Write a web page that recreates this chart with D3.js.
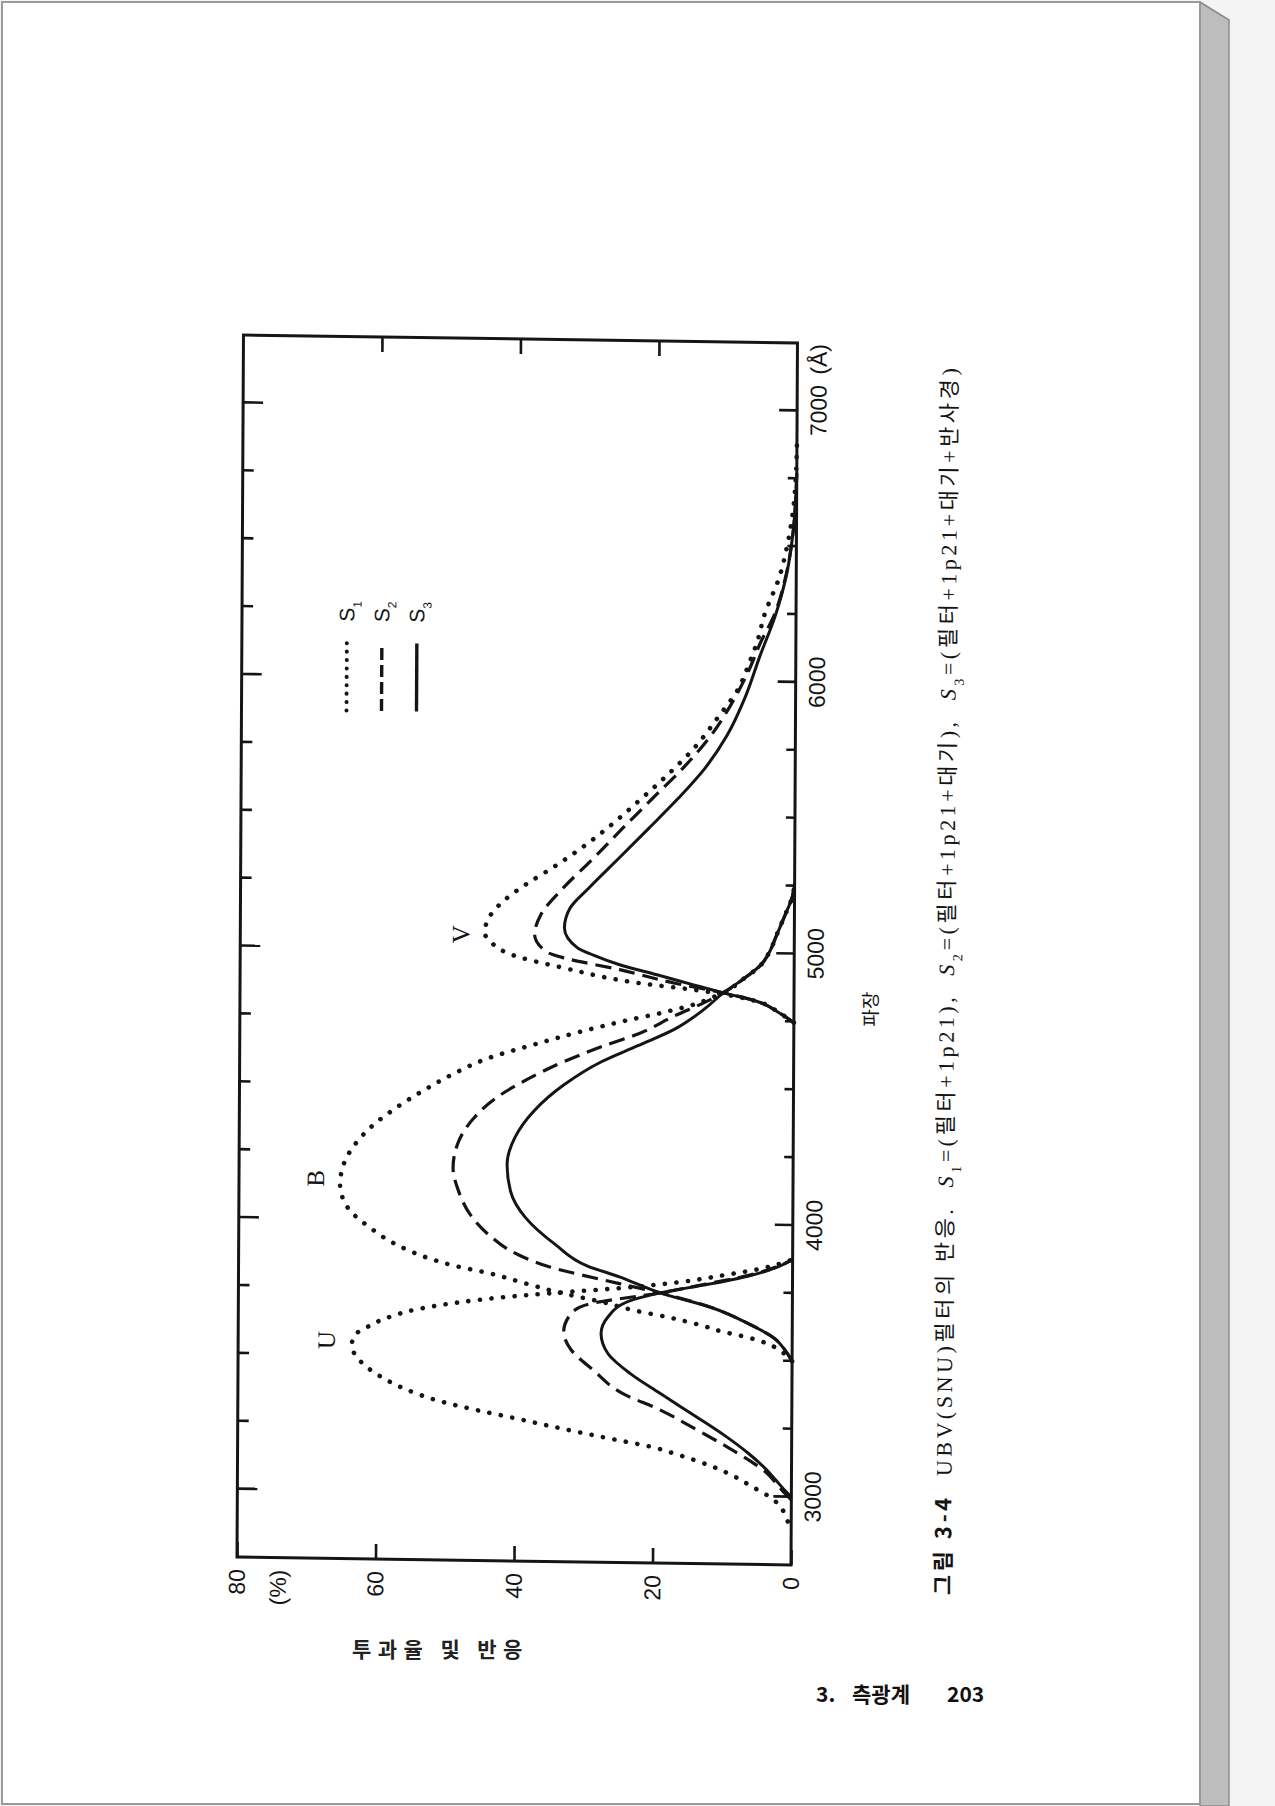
<!DOCTYPE html>
<html>
<head>
<meta charset="utf-8">
<script src="https://cdn.jsdelivr.net/npm/d3@7"></script>
<style>
  body { margin: 0; background: #f4f4f4; }
  svg { display: block; }
</style>
</head>
<body>
<div id="chart"></div>
<script>
// ---- data (wavelength in A, response in %) ----
var waveTicks = [3000, 4000, 5000, 6000, 7000];
var pctTicks = [0, 20, 40, 60, 80];

// U filter
var uWaveS1 = [2910, 2950, 2990, 3038, 3075, 3110, 3150, 3180, 3200, 3223, 3250, 3278, 3300, 3333, 3378, 3425, 3485, 3535, 3575, 3606, 3638, 3671, 3698, 3720, 3740, 3760, 3785, 3813, 3840, 3875];
var uPctS1  = [0.5, 1.2, 2.6, 5.8, 8.4, 11.6, 16.4, 20.7, 25.0, 29.8, 35.1, 40.4, 44.8, 50.6, 55.9, 59.6, 62.6, 63.6, 63.1, 61.2, 58.6, 54.3, 48.5, 42, 34, 25, 16.5, 10, 4.5, 0];
var uWaveS2 = [2990, 3015, 3050, 3088, 3136, 3184, 3244, 3315, 3372, 3457, 3530, 3597, 3665, 3701, 3745, 3780, 3813, 3845, 3875];
var uPctS2  = [0, 1, 2.2, 3.6, 6.3, 9.5, 13.8, 19.1, 24.4, 28.7, 31.9, 33, 31.9, 29.2, 19.1, 12.5, 6.5, 2.5, 0];
var uWaveS3 = [3000, 3026, 3060, 3099, 3160, 3220, 3291, 3376, 3447, 3519, 3592, 3654, 3715, 3745, 3780, 3813, 3845, 3875];
var uPctS3  = [0, 1, 2.2, 3.6, 6.3, 9.5, 13.8, 19.1, 23.4, 26.6, 27.6, 26.6, 23.4, 19.1, 12, 6.2, 2.3, 0];

// B filter
var bWaveS1 = [3500, 3540, 3564, 3585, 3605, 3628, 3656, 3679, 3709, 3737, 3771, 3807, 3835, 3860, 3911, 3971, 4043, 4128, 4202, 4275, 4349, 4412, 4475, 4538, 4601, 4652, 4704, 4743, 4782, 4808, 4835, 4853, 4902, 4958, 5010, 5066, 5140, 5213, 5260];
var bPctS1  = [0, 1.8, 3.6, 6.3, 10, 13.2, 18, 22.8, 27.6, 33, 38.3, 43.6, 49, 52.5, 57.4, 61.1, 64.3, 65.4, 64.9, 63.3, 60.6, 57.4, 53.6, 49.3, 44, 37.6, 30.6, 24.7, 18.2, 14.5, 11.8, 10.2, 7.5, 4.8, 3.5, 2.6, 1.4, 0.3, 0];
var bWaveS2 = [3500, 3540, 3584, 3636, 3693, 3745, 3777, 3838, 3879, 3952, 4024, 4110, 4195, 4293, 4380, 4455, 4522, 4591, 4647, 4697, 4766, 4817, 4853, 4902, 4958, 5010, 5066, 5140, 5213, 5260];
var bPctS2  = [0, 1, 2.6, 6.3, 11.6, 19.1, 25, 35.5, 39.7, 44, 46.6, 48.3, 49.1, 48.3, 46.1, 42.9, 38.6, 33.2, 27.9, 22.5, 17.2, 12.9, 10.2, 7.5, 4.8, 3.5, 2.6, 1.4, 0.3, 0];
var bWaveS3 = [3500, 3540, 3584, 3636, 3693, 3745, 3802, 3840, 3918, 4015, 4113, 4211, 4309, 4407, 4505, 4591, 4654, 4717, 4793, 4853, 4902, 4958, 5010, 5066, 5140, 5213, 5260];
var bPctS3  = [0, 1, 2.6, 6.3, 11.6, 19.1, 25, 29.6, 34.3, 38.6, 40.8, 41.3, 40.2, 37.5, 33.2, 27.9, 22.5, 17.2, 12.9, 10.2, 7.5, 4.8, 3.5, 2.6, 1.4, 0.3, 0];

// V filter
var vWaveS1 = [4747, 4782, 4824, 4858, 4885, 4936, 4983, 5020, 5063, 5118, 5180, 5242, 5304, 5379, 5466, 5552, 5651, 5750, 5874, 5972, 6071, 6146, 6244, 6390, 6500, 6635, 6750, 6880];
var vPctS1  = [0, 2.1, 5.4, 12.9, 22.5, 33.2, 40.9, 43.5, 44.7, 44.1, 42, 38.8, 35, 30.8, 26.5, 22.7, 18.5, 14.7, 11, 8.3, 6.7, 5.6, 4.6, 2.4, 1.35, 0.5, 0.15, 0];
var vWaveS2 = [4747, 4782, 4824, 4853, 4886, 4933, 4973, 4995, 5058, 5132, 5231, 5341, 5453, 5565, 5676, 5786, 5911, 6046, 6145, 6244, 6403, 6550, 6770];
var vPctS2  = [0, 2.1, 5.4, 10.2, 17.2, 25.2, 33.2, 35.8, 37.5, 36.6, 33.4, 29.1, 24.9, 20.6, 16.3, 12.6, 9.4, 6.7, 5.1, 3.2, 1.4, 0.5, 0];
var vWaveS3 = [4747, 4782, 4824, 4853, 4881, 4916, 4951, 4985, 5011, 5084, 5157, 5232, 5343, 5455, 5566, 5677, 5800, 5948, 6094, 6244, 6403, 6550, 6770];
var vPctS3  = [0, 2.1, 5.4, 10.2, 14.5, 19.8, 25.2, 29, 31.3, 33.2, 32.4, 29.7, 25.4, 21.1, 16.9, 13.1, 9.9, 7.2, 5.2, 3, 1.35, 0.5, 0];

// curve name labels (wavelength, percent)
var bandNames = ["U", "B", "V"];
var bandLabelWave = [3553, 4149, 5055];
var bandLabelPct = [67.3, 69, 48.2];

var legendNames = ["1", "2", "3"];

var series = [
    { wave: uWaveS1, pct: uPctS1, s: "dot" },
    { wave: uWaveS2, pct: uPctS2, s: "dash" },
    { wave: uWaveS3, pct: uPctS3, s: "solid" },
    { wave: bWaveS1, pct: bPctS1, s: "dot" },
    { wave: bWaveS2, pct: bPctS2, s: "dash" },
    { wave: bWaveS3, pct: bPctS3, s: "solid" },
    { wave: vWaveS1, pct: vPctS1, s: "dot" },
    { wave: vWaveS2, pct: vPctS2, s: "dash" },
    { wave: vWaveS3, pct: vPctS3, s: "solid" }
];

var ink = "#151515";
var numFont = "'Liberation Sans Narrow', 'Arial Narrow', 'Liberation Sans', sans-serif";
var krFont = "'Noto Sans CJK KR', sans-serif";

var W = 1222, H = 554;
var x = d3.scaleLinear().domain([2750, 7250]).range([0, W]);
var y = d3.scaleLinear().domain([0, 80]).range([H, 0]);

var svg = d3.select("#chart").append("svg")
    .attr("width", 1275)
    .attr("height", 1806);

// scanned page look
svg.append("rect").attr("width", 1275).attr("height", 1806).attr("fill", "#f4f4f4");
svg.append("polygon")
    .attr("points", "1200,2 1229,20 1229,1806 1200,1806")
    .attr("fill", "#bdbdbd").attr("stroke", "#8a8a8a").attr("stroke-width", 1.5);
svg.append("rect")
    .attr("x", 2).attr("y", 2).attr("width", 1198).attr("height", 1802)
    .attr("fill", "#fff").attr("stroke", "#9a9a9a").attr("stroke-width", 2);

// chart is printed sideways on the page (slightly skewed scan)
var g = svg.append("g")
    .attr("transform", "matrix(0.0053,-1,1,0.0144,237,1557)");

var minorTicks = d3.range(3000, 7250, 250).filter(function(v) { return v % 1000 !== 0; });

function styleAxis(sel) {
    sel.select(".domain").remove();
    sel.selectAll(".tick line").attr("stroke", ink).attr("stroke-width", 2.6);
    sel.selectAll(".tick text").attr("fill", ink)
        .style("font-family", numFont).style("font-size", "23px");
}

// wavelength axis (bottom in chart = right side of page)
g.append("g").attr("transform", "translate(0," + H + ")")
    .call(d3.axisBottom(x).tickValues(waveTicks).tickSize(-18).tickPadding(13).tickFormat(d3.format("d")))
    .call(styleAxis);
g.append("g").attr("transform", "translate(0," + H + ")")
    .call(d3.axisBottom(x).tickValues(minorTicks).tickSize(-9).tickFormat(""))
    .call(styleAxis);
g.append("g")
    .call(d3.axisTop(x).tickValues(waveTicks).tickSize(-20).tickFormat(""))
    .call(styleAxis);
g.append("g")
    .call(d3.axisTop(x).tickValues(minorTicks).tickSize(-11).tickFormat(""))
    .call(styleAxis);

// percent axis
g.append("g")
    .call(d3.axisLeft(y).tickValues(pctTicks).tickSize(-15).tickPadding(12))
    .call(styleAxis);
g.append("g").attr("transform", "translate(" + W + ",0)")
    .call(d3.axisRight(y).tickValues([20, 40, 60]).tickSize(-15).tickFormat(""))
    .call(styleAxis);

g.append("text")
    .attr("x", -12).attr("y", 41).attr("dy", "0.35em")
    .attr("text-anchor", "end")
    .style("font-family", numFont).style("font-size", "23px").attr("fill", ink)
    .text("(%)");

g.append("text")
    .attr("x", x(7135)).attr("y", H + 13).attr("dy", "0.71em")
    .style("font-family", numFont).style("font-size", "23px").attr("fill", ink)
    .text("(Å)");

// frame
g.append("rect")
    .attr("x", 0).attr("y", 0).attr("width", W).attr("height", H)
    .attr("fill", "none").attr("stroke", ink).attr("stroke-width", 3);

// curves
var line = d3.line()
    .x(function(d) { return x(d[0]); })
    .y(function(d) { return y(d[1]); })
    .curve(d3.curveMonotoneX);

function strokeStyle(sel, s) {
    sel.attr("fill", "none").attr("stroke", ink);
    if (s === "dot") {
        sel.attr("stroke-width", 4.6).attr("stroke-linecap", "round").attr("stroke-dasharray", "0.1 11.5");
    } else if (s === "dash") {
        sel.attr("stroke-width", 3.2).attr("stroke-dasharray", "16 8");
    } else {
        sel.attr("stroke-width", 3);
    }
}

series.forEach(function(sr) {
    var pts = sr.wave.map(function(w, i) { return [w, sr.pct[i]]; });
    g.append("path").attr("d", line(pts)).call(strokeStyle, sr.s);
});

// U B V labels
g.selectAll(".band").data(bandNames).enter().append("text")
    .attr("x", function(d, i) { return x(bandLabelWave[i]); })
    .attr("y", function(d, i) { return y(bandLabelPct[i]); })
    .attr("dy", "0.35em")
    .attr("text-anchor", "middle")
    .style("font-family", "'Liberation Serif', serif").style("font-size", "25px")
    .attr("fill", ink)
    .text(function(d) { return d; });

// legend
var legStyles = ["dot", "dash", "solid"];
legendNames.forEach(function(n, i) {
    var cy = 105 + i * 35;
    g.append("line").attr("x1", 848).attr("x2", 916).attr("y1", cy).attr("y2", cy)
        .call(strokeStyle, legStyles[i])
        .attr("stroke-dasharray", legStyles[i] === "dot" ? "0.1 8.3" : legStyles[i] === "dash" ? "12 5" : null)
        .attr("stroke-width", legStyles[i] === "dot" ? 4 : 3.4);
    var t = g.append("text").attr("x", 937).attr("y", cy).attr("dy", "0.35em")
        .style("font-family", "'Liberation Sans', sans-serif").style("font-size", "21px").attr("fill", ink);
    t.append("tspan").text("S");
    t.append("tspan").attr("baseline-shift", "sub").style("font-size", "12px").text(n);
});

// x axis title
g.append("text")
    .attr("x", 557).attr("y", 631).attr("dy", "0.35em")
    .attr("text-anchor", "middle")
    .style("font-family", krFont).style("font-size", "19px").attr("fill", ink)
    .text("파장");

// caption
var capParts = [
    { t: "그림 3-4", b: true },
    { t: "  UBV(SNU)필터의 반응.  " },
    { t: "S", i: true }, { t: "1", sub: true }, { t: "=(필터+1p21),  " },
    { t: "S", i: true }, { t: "2", sub: true }, { t: "=(필터+1p21+대기),  " },
    { t: "S", i: true }, { t: "3", sub: true }, { t: "=(필터+1p21+대기+반사경)" }
];
var cap = g.append("text")
    .attr("x", -28).attr("y", 714)
    .style("font-family", "'Liberation Serif', " + krFont)
    .style("font-size", "22px").style("white-space", "pre")
    .attr("fill", ink);
capParts.forEach(function(p) {
    var ts = cap.append("tspan").text(p.t);
    if (p.b) ts.style("font-weight", "bold").style("font-family", krFont);
    if (p.i) ts.style("font-style", "italic");
    if (p.sub) ts.attr("baseline-shift", "sub").style("font-size", "14px");
});
var capLen = cap.node().getComputedTextLength();
var capChars = capParts.map(function(p) { return p.t; }).join("").length;
cap.style("letter-spacing", ((1227 - capLen) / (capChars - 1)) + "px");

// y axis title (printed upright on the page)
var yt = svg.append("text")
    .attr("x", 352).attr("y", 1657)
    .style("font-family", krFont).style("font-size", "21px").style("font-weight", "bold")
    .attr("fill", "#222")
    .text("투과율 및 반응");
var ytLen = yt.node().getComputedTextLength();
yt.style("letter-spacing", ((164 - ytLen) / 6) + "px");

// page number
var pn = svg.append("g").style("font-family", krFont).style("font-weight", "bold")
    .style("font-size", "21px").attr("fill", "#111");
pn.append("text").attr("x", 816).attr("y", 1702).text("3.");
pn.append("text").attr("x", 852).attr("y", 1702).text("측광계");
pn.append("text").attr("x", 947).attr("y", 1702).text("203");
</script>
</body>
</html>
